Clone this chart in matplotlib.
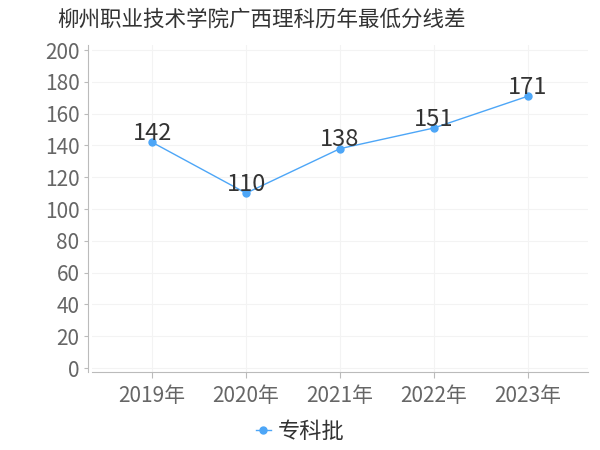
import matplotlib
matplotlib.use('Agg')
import matplotlib.pyplot as plt

# 数据
years = ['2019年', '2020年', '2021年', '2022年', '2023年']
scores = [142, 110, 138, 151, 171]
series_name = '专科批'
title = '柳州职业技术学院广西理科历年最低分线差'
yticks = [0, 20, 40, 60, 80, 100, 120, 140, 160, 180, 200]

plt.rcParams['font.family'] = ['Noto Sans CJK SC', 'DejaVu Sans']

fig = plt.figure(figsize=(6, 4.5), dpi=100)
ax = fig.add_axes([92 / 600, 1 - 372 / 450, 496 / 600, 327 / 450])

# 坐标轴样式（先设置位置，否则会重置刻度）
for s in ['top', 'right']:
    ax.spines[s].set_visible(False)
ax.spines['left'].set_position(('outward', 3))
ax.spines['left'].set_color('#bbbbbb')
ax.spines['bottom'].set_color('#bbbbbb')

line_color = '#4da6f7'
x = list(range(len(years)))
ax.plot(x, scores, '-o', color=line_color, linewidth=1, markersize=5, label=series_name)

for xi, v in zip(x, scores):
    ax.annotate(str(v), (xi, v), xytext=(0, -2), textcoords='offset points',
                ha='center', va='bottom', fontsize=17, color='#333333')

ax.set_xlim(-0.64, 4.64)
ax.set_ylim(-2.5, 203.2)
ax.set_xticks(x)
ax.set_xticklabels(years, fontsize=15, color='#666666')
ax.set_yticks(yticks)
ax.set_yticklabels([str(t) for t in yticks], fontsize=15, color='#666666')

ax.grid(True, color='#f3f3f3', linewidth=0.8)
ax.set_axisbelow(True)
ax.tick_params(axis='y', length=3, color='#bbbbbb', pad=3)
ax.tick_params(axis='x', length=4, color='#bbbbbb', pad=5)

fig.text(262 / 600, 1 - 20 / 450, title, ha='center', va='center', fontsize=15.5, color='#333333')

fig.legend(loc='center', bbox_to_anchor=(0.5, 1 - 431 / 450), frameon=False, fontsize=16,
           handlelength=0.7, handletextpad=0.3, labelcolor='#333333')

fig.savefig('out.png', dpi=100)
